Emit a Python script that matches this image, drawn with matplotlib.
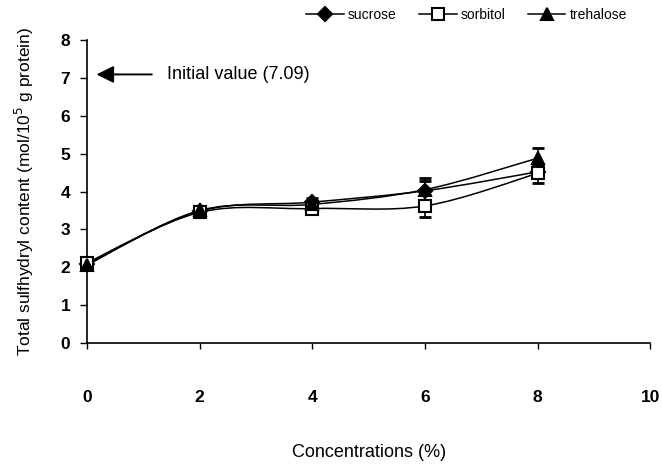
import matplotlib.pyplot as plt
from matplotlib.path import Path
from matplotlib.patches import PathPatch
import numpy as np

plt.rcParams['font.family'] = ['Liberation Sans', 'DejaVu Sans']

# Sulfhydryl content vs sugar concentration
conc = [0, 2, 4, 6, 8]
sucrose = [2.08, 3.48, 3.72, 4.02, 4.52]
sucrose_err = [0.1, 0.08, 0.12, 0.25, 0.15]
sorbitol = [2.12, 3.45, 3.55, 3.62, 4.48]
sorbitol_err = [0.1, 0.08, 0.1, 0.3, 0.25]
trehalose = [2.06, 3.5, 3.66, 4.05, 4.88]
trehalose_err = [0.1, 0.1, 0.1, 0.3, 0.28]
initial_value = 7.09


def smooth_path(x, y):
    # Bezier segments through every point (spreadsheet-style smoothed line)
    pts = np.column_stack([x, y]).astype(float)
    n = len(pts)
    verts = [pts[0]]
    codes = [Path.MOVETO]
    for i in range(n - 1):
        p0 = pts[i - 1] if i > 0 else pts[i]
        p1, p2 = pts[i], pts[i + 1]
        p3 = pts[i + 2] if i + 2 < n else pts[i + 1]
        c1 = p1 + (p2 - p0) / 6.0
        c2 = p2 - (p3 - p1) / 6.0
        verts += [c1, c2, p2]
        codes += [Path.CURVE4] * 3
    return Path(verts, codes)


fig = plt.figure(figsize=(6.62, 4.70), dpi=100)
ax = fig.add_axes([0.1314, 0.270, 0.851, 0.645])

series = [
    ('sucrose', sucrose, sucrose_err, dict(marker='D', markersize=7, markerfacecolor='black')),
    ('sorbitol', sorbitol, sorbitol_err, dict(marker='s', markersize=9, markerfacecolor='white')),
    ('trehalose', trehalose, trehalose_err, dict(marker='^', markersize=9, markerfacecolor='black')),
]

handles = []
for name, vals, errs, style in series:
    ax.add_patch(PathPatch(smooth_path(conc, vals), facecolor='none',
                           edgecolor='black', lw=1.1, zorder=2))
    ax.errorbar(conc, vals, yerr=errs, fmt='none', ecolor='black',
                elinewidth=1.2, capsize=4, capthick=2, zorder=3)
    ax.plot(conc, vals, linestyle='none', markeredgecolor='black',
            markeredgewidth=1.5, zorder=4, clip_on=False, **style)
    h, = ax.plot([], [], color='black', lw=1.1, markeredgecolor='black',
                 markeredgewidth=1.5, label=name, **style)
    handles.append(h)

# arrow marking the starting value
ax.annotate('', xy=(0.12, initial_value), xytext=(1.2, initial_value),
            arrowprops=dict(arrowstyle='-|>', color='black', lw=1.4,
                            mutation_scale=26))
ax.text(1.42, initial_value, 'Initial value (7.09)', fontsize=13,
        va='center', ha='left')

ax.set_xlim(0, 10)
ax.set_ylim(0, 8)
ax.set_xticks([0, 2, 4, 6, 8, 10])
ax.set_yticks(range(0, 9))
ax.spines['top'].set_visible(False)
ax.spines['right'].set_visible(False)
ax.spines['left'].set_linewidth(1.2)
ax.spines['bottom'].set_linewidth(1.2)
ax.tick_params(axis='x', direction='out', length=4, width=1, pad=30, labelsize=12.5)
ax.tick_params(axis='y', direction='out', length=5, width=1, pad=7, labelsize=12.5)
for lbl in ax.get_xticklabels() + ax.get_yticklabels():
    lbl.set_fontweight('bold')

ax.set_xlabel('Concentrations (%)', fontsize=13, labelpad=28)
ax.set_ylabel('Total sulfhydryl content (mol/10$^{5}$ g protein)', fontsize=12.5,
              labelpad=18)

fig.legend(handles=handles, loc='upper center', bbox_to_anchor=(0.705, 1.01),
           ncol=3, frameon=False, fontsize=10, handlelength=2.7,
           columnspacing=1.6, handletextpad=0.3)

fig.savefig('out.png', dpi=100)
